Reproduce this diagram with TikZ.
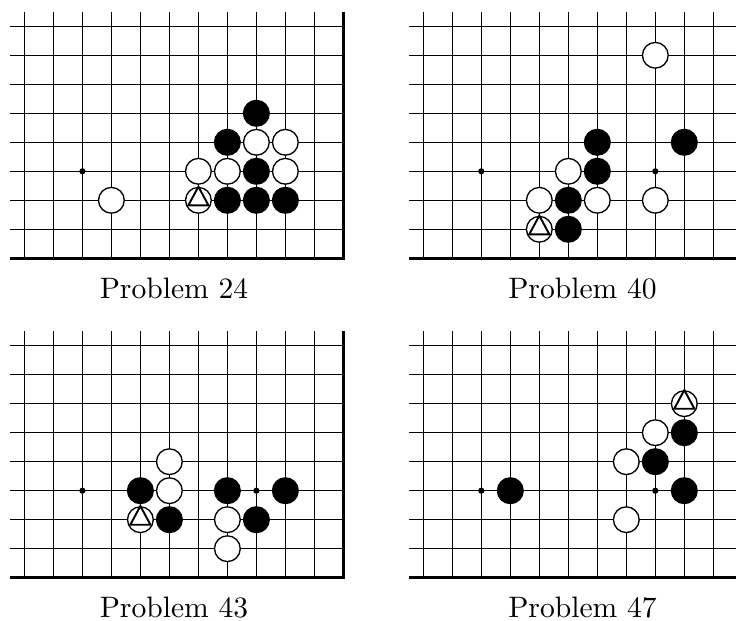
\documentclass[tikz,border=0pt]{standalone}
\tikzset{
  gridline/.style={line width=0.35pt},
  edgeline/.style={line width=1.1pt,line join=miter},
  stone/.style={circle,draw,line width=0.45pt,inner sep=0pt,minimum size=8.7pt},
  bstone/.style={stone,fill=black},
  wstone/.style={stone,fill=white},
  hoshi/.style={circle,fill=black,inner sep=0pt,minimum size=2.1pt},
  tri/.style={line width=0.65pt,line join=miter},
  caption/.style={anchor=base}
}
% board corner: grid of 11 lines + right edge at x=12, bottom edge at y=0
\newcommand{\goboard}{%
  \foreach \r in {1,...,8} \draw[gridline] (0.5,\r) -- (12,\r);
  \foreach \c in {1,...,11} \draw[gridline] (\c,0) -- (\c,8.5);
  \draw[edgeline] (0.5,0) -- (12,0) -- (12,8.5);
}
\newcommand{\trimark}[1]{%
  \draw[tri] ([yshift=4.6pt]#1.center) -- ([shift={(-3.4pt,-1.7pt)}]#1.center)
    -- ([shift={(3.4pt,-1.7pt)}]#1.center) -- cycle;
}
\begin{document}
\begin{tikzpicture}[x=9.8pt,y=9.8pt]
  \useasboundingbox (0,0) rectangle (25.379,21.414);

  % Problem 24
  \begin{scope}[shift={(-0.159,12.507)}]
    \goboard
    \node[hoshi] (h24a) at (3,3) {};
    \node[wstone] (w24a) at (4,2) {};
    \node[bstone] (b24a) at (9,5) {};
    \node[bstone] (b24b) at (8,4) {};
    \node[wstone] (w24b) at (9,4) {};
    \node[wstone] (w24c) at (10,4) {};
    \node[wstone] (w24d) at (7,3) {};
    \node[wstone] (w24e) at (8,3) {};
    \node[bstone] (b24c) at (9,3) {};
    \node[wstone] (w24f) at (10,3) {};
    \node[wstone] (w24g) at (7,2) {};
    \node[bstone] (b24d) at (8,2) {};
    \node[bstone] (b24e) at (9,2) {};
    \node[bstone] (b24f) at (10,2) {};
    \trimark{w24g}
    \node[caption] (cap24) at (6.16,-1.38) {Problem 24};
  \end{scope}

  % Problem 40
  \begin{scope}[shift={(13.597,12.507)}]
    \goboard
    \node[hoshi] (h40a) at (3,3) {};
    \node[hoshi] (h40b) at (9,3) {};
    \node[wstone] (w40a) at (9,7) {};
    \node[bstone] (b40a) at (7,4) {};
    \node[bstone] (b40b) at (10,4) {};
    \node[wstone] (w40b) at (6,3) {};
    \node[bstone] (b40c) at (7,3) {};
    \node[wstone] (w40c) at (5,2) {};
    \node[bstone] (b40d) at (6,2) {};
    \node[wstone] (w40d) at (7,2) {};
    \node[wstone] (w40e) at (9,2) {};
    \node[wstone] (w40f) at (5,1) {};
    \node[bstone] (b40e) at (6,1) {};
    \trimark{w40f}
    \node[caption] (cap40) at (6.49,-1.38) {Problem 40};
  \end{scope}

  % Problem 43
  \begin{scope}[shift={(-0.159,1.493)}]
    \goboard
    \node[hoshi] (h43a) at (3,3) {};
    \node[hoshi] (h43b) at (9,3) {};
    \node[wstone] (w43a) at (6,4) {};
    \node[bstone] (b43a) at (5,3) {};
    \node[wstone] (w43b) at (6,3) {};
    \node[bstone] (b43b) at (8,3) {};
    \node[bstone] (b43c) at (10,3) {};
    \node[wstone] (w43c) at (5,2) {};
    \node[bstone] (b43d) at (6,2) {};
    \node[wstone] (w43d) at (8,2) {};
    \node[bstone] (b43e) at (9,2) {};
    \node[wstone] (w43e) at (8,1) {};
    \trimark{w43c}
    \node[caption] (cap43) at (6.16,-1.38) {Problem 43};
  \end{scope}

  % Problem 47
  \begin{scope}[shift={(13.597,1.493)}]
    \goboard
    \node[hoshi] (h47a) at (3,3) {};
    \node[hoshi] (h47b) at (9,3) {};
    \node[wstone] (w47a) at (10,6) {};
    \node[wstone] (w47b) at (9,5) {};
    \node[bstone] (b47a) at (10,5) {};
    \node[wstone] (w47c) at (8,4) {};
    \node[bstone] (b47b) at (9,4) {};
    \node[bstone] (b47c) at (4,3) {};
    \node[bstone] (b47d) at (10,3) {};
    \node[wstone] (w47d) at (8,2) {};
    \trimark{w47a}
    \node[caption] (cap47) at (6.49,-1.38) {Problem 47};
  \end{scope}
\end{tikzpicture}
\end{document}
